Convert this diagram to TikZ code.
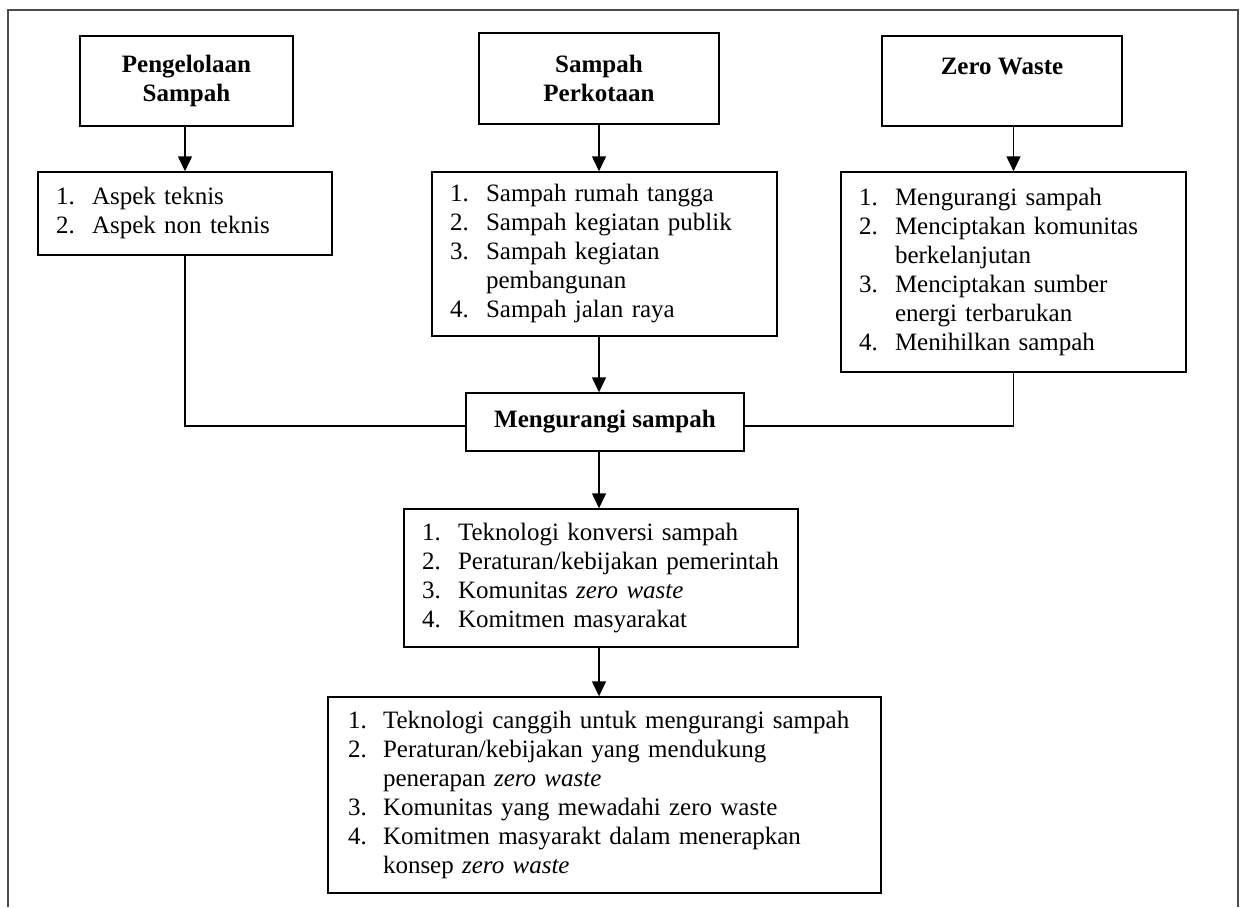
\documentclass[tikz,border=0pt]{standalone}
\usepackage{fontspec}
\setmainfont{Liberation Serif}
\usetikzlibrary{arrows.meta}
\newcommand{\wlist}[2][36pt]{\noindent\begin{tabular}{@{}p{#1}@{}l@{}}#2\end{tabular}}

\begin{document}
\begin{tikzpicture}[x=1pt, y=-1pt, line width=1.4pt,
  font=\fontsize{25}{29}\selectfont,
  headbox/.style={draw, align=center, inner sep=0pt, font=\fontsize{25}{29}\selectfont\bfseries},
  listbox/.style={draw, align=left, inner xsep=18pt, inner ysep=0pt},
  arr/.style={-{Triangle[length=15pt,width=14pt]}}]
\useasboundingbox (0,0) rectangle (1246,907);

% frame
\draw [black!70] (8,907) -- (8,10) -- (1238,10) -- (1238,907);

% top row
\node [headbox, minimum width=213pt, minimum height=90pt] (pengelolaan) at (186.5,81) {Pengelolaan\\Sampah};
\node [headbox, minimum width=240pt, minimum height=91pt] (perkotaan) at (599,78.5) {Sampah\\Perkotaan};
\node [headbox, minimum width=240pt, minimum height=90pt] (zerowaste) at (1002,81) {Zero Waste\\\mbox{}};

% lists
\node [listbox, text width=258pt, minimum height=83pt] (aspek) at (185,213.5)
  {\wlist{1. & Aspek teknis\\ 2. & Aspek non teknis}};
\node [listbox, text width=309pt, minimum height=164pt] (jenis) at (604.5,254)
  {\wlist{1. & Sampah rumah tangga\\ 2. & Sampah kegiatan publik\\ 3. & Sampah kegiatan\\ & pembangunan\\ 4. & Sampah jalan raya}};
\node [listbox, text width=309pt, minimum height=200pt] (tujuan) at (1013.5,272)
  {\wlist{1. & Mengurangi sampah\\ 2. & Menciptakan komunitas\\ & berkelanjutan\\ 3. & Menciptakan sumber\\ & energi terbarukan\\ 4. & Menihilkan sampah}};

% middle
\node [headbox, minimum width=278pt, minimum height=58pt] (kurangi) at (605,422) {Mengurangi sampah};
\node [listbox, text width=358pt, minimum height=138pt] (faktor) at (601,578)
  {\wlist{1. & Teknologi konversi sampah\\ 2. & Peraturan/kebijakan pemerintah\\ 3. & Komunitas \textit{zero waste}\\ 4. & Komitmen masyarakat}};
\node [listbox, inner xsep=20pt, text width=513pt, minimum height=196pt] (hasil) at (604.5,795)
  {\wlist[35pt]{1. & Teknologi canggih untuk mengurangi sampah\\ 2. & Peraturan/kebijakan yang mendukung\\ & penerapan \textit{zero waste}\\ 3. & Komunitas yang mewadahi zero waste\\ 4. & Komitmen masyarakt dalam menerapkan\\ & konsep \textit{zero waste}}};

% arrows
\draw [arr] (aspek.north |- pengelolaan.south) -- (aspek.north);
\draw [arr] (perkotaan.south) -- (perkotaan.south |- jenis.north);
\draw [arr] (tujuan.north |- zerowaste.south) -- (tujuan.north);
\draw [arr] (jenis.south -| perkotaan) -- (kurangi.north -| perkotaan);
\draw (aspek.south) |- ([yshift=-4pt]kurangi.west);
\draw (tujuan.south) |- ([yshift=-4pt]kurangi.east);
\draw [arr] (kurangi.south -| perkotaan) -- (faktor.north -| perkotaan);
\draw [arr] (faktor.south -| perkotaan) -- (hasil.north -| perkotaan);
\end{tikzpicture}
\end{document}
